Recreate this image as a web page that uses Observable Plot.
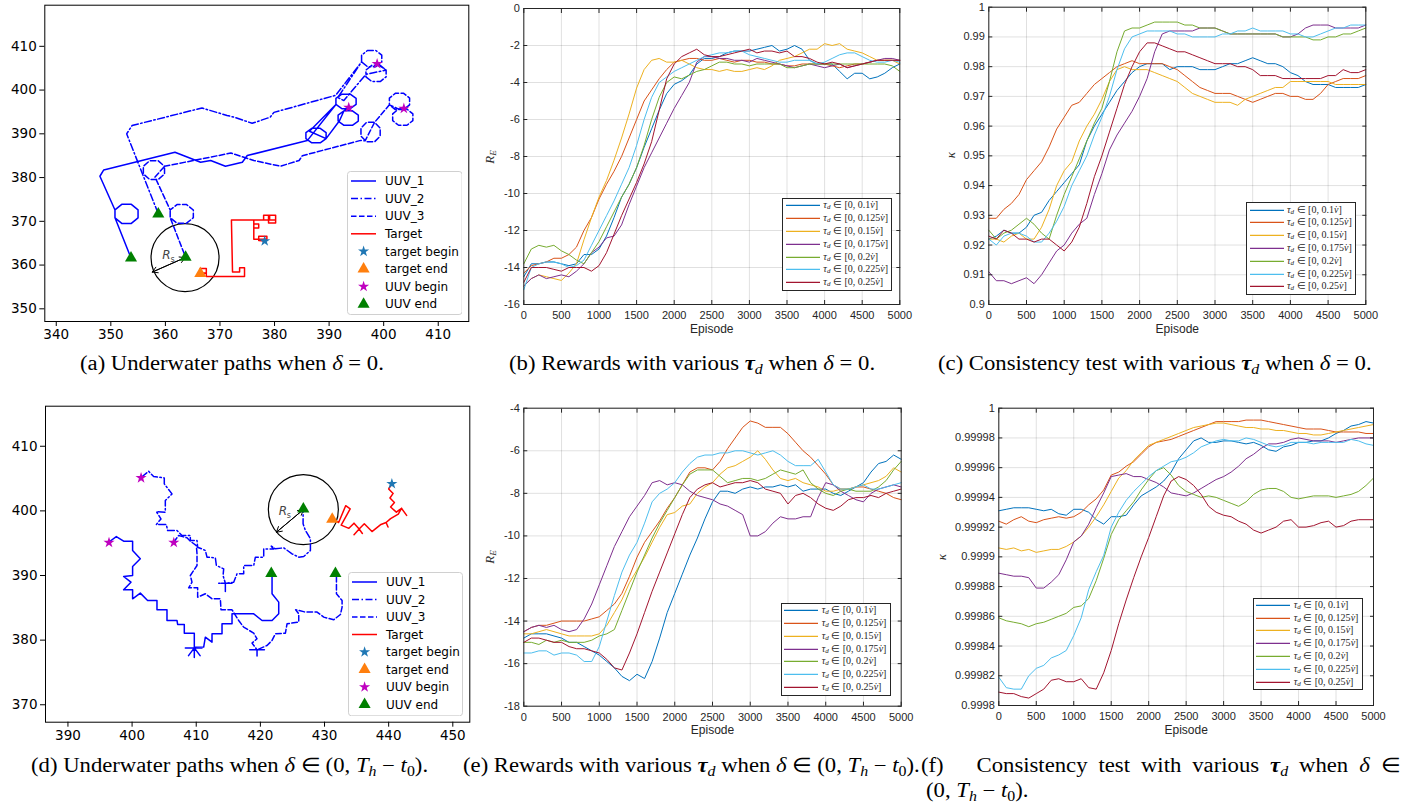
<!DOCTYPE html>
<html><head><meta charset="utf-8">
<script src="https://cdn.jsdelivr.net/npm/d3@7"></script>
<script src="https://cdn.jsdelivr.net/npm/@observablehq/plot@0.6"></script>
<style>
body{margin:0;background:#fff;}
#fig{position:relative;width:1406px;height:804px;overflow:hidden;background:#fff;}
.cap{position:absolute;font-family:"Liberation Serif","Times New Roman",serif;font-size:20px;line-height:22px;white-space:nowrap;color:#000;transform:scaleX(1.135);transform-origin:0 50%;}
.cap sub{font-size:0.7em;vertical-align:-0.25em;line-height:0;}
.ylab{position:absolute;font-family:"Liberation Serif",serif;font-style:italic;font-size:13px;white-space:nowrap;color:#262626;line-height:14px;}
.ylab sub{font-size:0.7em;vertical-align:-0.2em;line-height:0;}
.mleg{position:absolute;box-sizing:border-box;background:#fff;border:1px solid #262626;font-family:"Liberation Serif",serif;font-size:10px;color:#262626;}
.mleg .row{position:absolute;left:0;right:0;}
.mleg sub{font-size:0.7em;vertical-align:-0.2em;line-height:0;}
</style></head>
<body><div id="fig"></div>
<script>
// ---------- shared categories / ticks ----------
const episodes = d3.range(0, 5001, 100);
const episodeTicks = [0,500,1000,1500,2000,2500,3000,3500,4000,4500,5000];
const tauKeys = ["0.1","0.125","0.15","0.175","0.2","0.225","0.25"];
const matlabColors = ["#0072BD","#D95319","#EDB120","#7E2F8E","#77AC30","#4DBEEE","#A2142F"];
const bTicks = [-16,-14,-12,-10,-8,-6,-4,-2,0];
const cTicks = [0.9,0.91,0.92,0.93,0.94,0.95,0.96,0.97,0.98,0.99,1];
const eTicks = [-18,-16,-14,-12,-10,-8,-6,-4];
const fTicks = [0.9998,0.99982,0.99984,0.99986,0.99988,0.9999,0.99992,0.99994,0.99996,0.99998,1];
const aXTicks = [340,350,360,370,380,390,400,410];
const aYTicks = [350,360,370,380,390,400,410];
const dXTicks = [390,400,410,420,430,440,450];
const dYTicks = [370,380,390,400,410];

// ---------- (b) rewards, delta = 0 ----------
const rewardsB = [
[-14.5,-13.8,-13.8,-13.7,-13.7,-13.8,-13.9,-13.8,-13.3,-13.3,-13.0,-12.3,-11.3,-10.2,-9.5,-8.6,-7.5,-6.5,-5.5,-4.6,-4.1,-3.9,-3.6,-3.0,-2.7,-2.7,-2.6,-2.4,-2.3,-2.3,-2.3,-2.2,-2.1,-2.0,-2.3,-2.2,-2.0,-2.2,-2.8,-3.0,-3.0,-3.0,-3.4,-3.8,-3.5,-3.5,-3.8,-3.7,-3.5,-3.2,-3.0],
[-14.3,-13.9,-13.8,-13.7,-13.5,-13.5,-13.3,-12.9,-12.0,-11.3,-10.3,-9.5,-8.8,-8.0,-7.0,-6.0,-5.0,-4.4,-3.8,-3.3,-2.9,-2.8,-2.7,-2.7,-2.8,-2.8,-2.7,-2.8,-2.9,-2.8,-2.8,-2.9,-2.9,-3.0,-3.0,-3.1,-3.1,-3.0,-3.0,-3.0,-3.0,-3.1,-3.2,-3.1,-3.0,-3.0,-2.9,-2.8,-2.8,-2.8,-2.8],
[-15.0,-14.6,-14.4,-14.5,-14.6,-14.7,-14.3,-13.8,-12.5,-11.3,-10.2,-9.3,-8.2,-7.0,-5.7,-4.3,-3.3,-2.8,-2.7,-2.9,-2.9,-2.8,-3.0,-3.2,-3.3,-3.3,-3.4,-3.3,-3.4,-3.4,-3.3,-3.2,-3.3,-3.1,-2.8,-2.7,-2.6,-2.4,-2.2,-2.2,-1.9,-2.0,-1.9,-2.2,-2.3,-2.4,-2.6,-2.8,-2.8,-2.8,-3.0],
[-15.0,-14.6,-14.4,-14.6,-14.5,-14.4,-14.5,-14.2,-13.8,-13.2,-12.9,-12.4,-12.3,-11.7,-10.6,-9.6,-8.6,-7.8,-7.0,-6.2,-5.4,-4.7,-4.0,-2.9,-2.6,-2.6,-2.7,-2.7,-2.8,-2.8,-2.9,-2.7,-2.8,-2.9,-3.0,-3.1,-3.2,-3.1,-3.0,-3.1,-3.2,-3.1,-3.0,-3.2,-3.1,-3.0,-2.9,-2.8,-2.7,-2.7,-2.8],
[-13.8,-13.0,-12.8,-12.9,-12.8,-13.1,-13.3,-13.6,-13.8,-13.2,-12.6,-11.8,-11.0,-10.2,-9.5,-8.6,-7.4,-6.0,-4.8,-4.0,-3.7,-3.8,-3.6,-3.4,-3.3,-3.1,-2.9,-2.9,-3.0,-3.0,-3.1,-3.0,-3.0,-3.0,-3.0,-3.2,-3.2,-3.1,-3.0,-3.0,-3.0,-3.0,-3.0,-3.0,-3.0,-3.0,-3.0,-3.0,-3.0,-3.1,-3.4],
[-15.2,-14.0,-13.8,-13.7,-13.7,-13.8,-14.0,-13.9,-13.6,-12.8,-12.0,-11.2,-10.4,-9.5,-8.6,-7.4,-6.0,-4.8,-4.0,-3.7,-3.4,-3.2,-3.0,-2.8,-2.6,-2.5,-2.4,-2.4,-2.3,-2.3,-2.5,-2.6,-2.7,-2.8,-2.9,-2.9,-2.8,-2.8,-2.8,-3.0,-2.9,-2.7,-2.5,-2.4,-2.4,-2.6,-2.8,-2.9,-2.9,-2.8,-2.9],
[-14.8,-14.0,-14.0,-14.0,-14.1,-14.2,-14.0,-14.0,-14.0,-14.2,-13.9,-13.2,-12.2,-11.2,-10.3,-9.4,-8.4,-7.2,-5.5,-3.8,-3.0,-2.6,-2.4,-2.2,-2.5,-2.6,-2.6,-2.5,-2.4,-2.3,-2.2,-2.4,-2.3,-2.3,-2.4,-2.3,-2.6,-2.6,-2.7,-2.9,-3.0,-2.9,-3.0,-3.2,-3.1,-3.0,-2.9,-2.8,-2.8,-2.8,-2.8]
];

// ---------- (c) consistency, delta = 0 ----------
const consistC = [
[0.922,0.923,0.925,0.924,0.924,0.926,0.930,0.931,0.935,0.938,0.941,0.944,0.947,0.955,0.960,0.964,0.968,0.972,0.975,0.978,0.980,0.981,0.981,0.981,0.979,0.980,0.980,0.980,0.979,0.979,0.979,0.980,0.981,0.981,0.982,0.983,0.982,0.981,0.981,0.980,0.978,0.977,0.975,0.974,0.974,0.974,0.973,0.973,0.973,0.973,0.974],
[0.929,0.929,0.932,0.934,0.937,0.942,0.945,0.948,0.953,0.959,0.963,0.967,0.968,0.971,0.974,0.976,0.978,0.980,0.981,0.982,0.981,0.981,0.981,0.981,0.980,0.979,0.977,0.975,0.973,0.972,0.971,0.971,0.971,0.970,0.969,0.968,0.969,0.970,0.971,0.971,0.970,0.970,0.969,0.969,0.971,0.974,0.975,0.976,0.976,0.976,0.977],
[0.922,0.922,0.921,0.923,0.924,0.922,0.922,0.926,0.932,0.940,0.945,0.948,0.955,0.960,0.964,0.969,0.975,0.979,0.980,0.979,0.979,0.979,0.978,0.977,0.976,0.975,0.973,0.971,0.970,0.969,0.968,0.968,0.968,0.967,0.969,0.970,0.971,0.972,0.973,0.973,0.975,0.975,0.975,0.975,0.975,0.975,0.974,0.974,0.974,0.974,0.974],
[0.911,0.908,0.908,0.907,0.908,0.909,0.907,0.910,0.914,0.918,0.920,0.924,0.927,0.929,0.937,0.944,0.952,0.957,0.961,0.965,0.970,0.976,0.985,0.991,0.992,0.992,0.992,0.992,0.993,0.993,0.993,0.992,0.991,0.991,0.991,0.991,0.991,0.991,0.991,0.990,0.990,0.991,0.993,0.994,0.994,0.994,0.993,0.993,0.993,0.993,0.994],
[0.925,0.922,0.924,0.925,0.927,0.929,0.927,0.924,0.922,0.930,0.937,0.943,0.949,0.955,0.961,0.966,0.975,0.985,0.992,0.993,0.993,0.994,0.995,0.995,0.995,0.995,0.994,0.994,0.993,0.993,0.993,0.992,0.991,0.991,0.991,0.991,0.991,0.991,0.991,0.990,0.990,0.990,0.990,0.989,0.989,0.990,0.990,0.991,0.991,0.992,0.993],
[0.922,0.920,0.923,0.924,0.924,0.923,0.921,0.921,0.924,0.928,0.933,0.940,0.945,0.950,0.957,0.963,0.970,0.979,0.986,0.990,0.991,0.992,0.992,0.992,0.992,0.991,0.991,0.990,0.990,0.990,0.990,0.991,0.991,0.992,0.992,0.993,0.992,0.992,0.992,0.992,0.991,0.991,0.990,0.990,0.991,0.992,0.993,0.993,0.994,0.994,0.994],
[0.923,0.922,0.925,0.924,0.922,0.922,0.921,0.922,0.922,0.920,0.918,0.921,0.926,0.934,0.943,0.950,0.958,0.966,0.974,0.980,0.985,0.988,0.988,0.987,0.986,0.985,0.985,0.984,0.983,0.982,0.981,0.981,0.981,0.980,0.980,0.979,0.977,0.977,0.977,0.976,0.976,0.976,0.976,0.976,0.976,0.977,0.977,0.979,0.978,0.978,0.979]
];

// ---------- (e) rewards, delta in (0, Th - t0) ----------
const rewardsE = [
[-14.8,-14.6,-14.6,-14.6,-14.7,-14.8,-15.0,-15.0,-15.2,-15.4,-15.6,-15.9,-16.2,-16.6,-16.8,-16.5,-16.7,-15.9,-14.8,-13.6,-12.7,-11.8,-10.9,-10.1,-9.2,-8.4,-7.9,-7.9,-8.0,-7.8,-7.7,-7.8,-7.7,-7.7,-7.6,-7.7,-7.6,-7.9,-7.8,-7.8,-7.8,-8.0,-8.1,-7.9,-7.7,-7.5,-7.0,-6.6,-6.5,-6.2,-6.4],
[-14.5,-14.3,-14.2,-14.2,-14.1,-14.0,-14.0,-14.0,-14.0,-13.9,-13.8,-13.5,-13.2,-12.7,-11.9,-11.0,-10.3,-9.8,-9.3,-8.7,-8.2,-7.6,-7.0,-6.8,-6.8,-6.9,-6.5,-5.9,-5.4,-4.9,-4.6,-4.7,-4.9,-4.9,-4.9,-5.2,-5.6,-6.0,-6.3,-6.7,-7.1,-7.6,-7.8,-7.8,-7.7,-7.7,-7.8,-7.9,-8.0,-8.2,-8.3],
[-14.6,-14.6,-14.5,-14.4,-14.5,-14.6,-14.7,-14.7,-14.7,-14.7,-14.6,-14.2,-13.6,-13.0,-12.2,-11.6,-11.0,-10.3,-9.6,-9.0,-8.9,-8.6,-8.5,-8.0,-7.7,-7.5,-7.1,-6.8,-6.7,-6.5,-6.3,-6.0,-6.4,-6.9,-7.3,-7.4,-7.3,-7.5,-7.6,-7.7,-7.9,-7.9,-7.8,-7.8,-7.7,-7.6,-7.5,-7.4,-7.2,-6.8,-7.0],
[-14.5,-14.3,-14.2,-14.3,-14.2,-14.4,-14.5,-14.4,-13.9,-13.2,-12.3,-11.4,-10.5,-9.8,-9.1,-8.6,-8.1,-7.5,-7.4,-7.6,-7.5,-7.6,-7.9,-8.1,-8.2,-8.3,-8.5,-8.6,-8.8,-9.0,-10.0,-10.0,-9.8,-9.4,-9.1,-9.2,-9.2,-9.1,-9.1,-8.2,-7.5,-7.6,-7.9,-8.1,-8.3,-8.4,-8.0,-7.8,-7.7,-7.6,-7.7],
[-15.0,-15.0,-15.1,-14.9,-15.0,-14.9,-15.0,-15.0,-15.0,-14.9,-14.7,-14.6,-14.4,-13.5,-12.6,-11.7,-10.9,-10.1,-9.4,-8.8,-8.2,-7.6,-7.1,-6.9,-6.9,-6.9,-7.2,-7.5,-7.4,-7.3,-7.3,-7.4,-7.3,-7.1,-6.9,-7.0,-7.1,-6.9,-7.5,-7.8,-8.0,-8.1,-7.9,-7.8,-7.9,-7.9,-7.9,-7.7,-7.4,-6.9,-6.5],
[-15.5,-15.5,-15.4,-15.4,-15.6,-15.5,-15.5,-15.6,-15.9,-15.9,-15.2,-14.0,-12.8,-11.7,-10.9,-10.3,-9.4,-8.4,-8.0,-7.8,-7.5,-7.0,-6.6,-6.3,-6.2,-6.2,-6.1,-6.1,-6.0,-6.0,-6.1,-6.2,-6.1,-6.0,-6.2,-6.5,-6.7,-6.7,-6.7,-6.4,-7.0,-7.6,-7.8,-7.8,-7.7,-7.6,-7.8,-7.8,-7.7,-7.6,-7.5],
[-15.0,-14.8,-14.8,-14.9,-15.0,-15.0,-15.2,-15.3,-15.3,-15.4,-15.5,-15.8,-16.2,-16.3,-15.5,-14.6,-13.6,-12.6,-11.7,-10.8,-9.9,-9.0,-8.2,-7.8,-7.6,-7.5,-7.7,-7.6,-7.5,-7.5,-7.4,-7.5,-7.8,-7.9,-8.0,-8.5,-8.1,-8.0,-8.2,-8.5,-8.7,-8.8,-8.6,-8.3,-8.2,-8.2,-8.1,-8.2,-8.0,-7.9,-7.8]
];

// ---------- (f) consistency, delta in (0, Th - t0) ----------
const consistF = [
[0.999931,0.999932,0.999933,0.999933,0.999933,0.999932,0.999931,0.999932,0.999929,0.999928,0.999932,0.999932,0.999930,0.999925,0.999922,0.999927,0.999927,0.999928,0.999935,0.999941,0.999944,0.999947,0.999951,0.999957,0.999966,0.999972,0.999978,0.999980,0.999977,0.999977,0.999978,0.999978,0.999977,0.999976,0.999977,0.999975,0.999972,0.999971,0.999974,0.999975,0.999977,0.999977,0.999978,0.999978,0.999980,0.999983,0.999985,0.999988,0.999989,0.999991,0.999990],
[0.999924,0.999922,0.999925,0.999927,0.999924,0.999923,0.999925,0.999926,0.999927,0.999926,0.999927,0.999930,0.999935,0.999939,0.999945,0.999955,0.999957,0.999961,0.999964,0.999969,0.999974,0.999977,0.999978,0.999979,0.999981,0.999983,0.999985,0.999987,0.999989,0.999991,0.999991,0.999991,0.999991,0.999992,0.999992,0.999992,0.999991,0.999990,0.999989,0.999988,0.999987,0.999986,0.999986,0.999986,0.999985,0.999984,0.999984,0.999984,0.999984,0.999983,0.999983],
[0.999906,0.999905,0.999906,0.999904,0.999905,0.999903,0.999904,0.999905,0.999905,0.999907,0.999910,0.999914,0.999920,0.999927,0.999935,0.999944,0.999953,0.999958,0.999965,0.999970,0.999975,0.999977,0.999979,0.999981,0.999983,0.999985,0.999987,0.999988,0.999989,0.999990,0.999990,0.999989,0.999988,0.999987,0.999987,0.999986,0.999986,0.999985,0.999985,0.999984,0.999983,0.999983,0.999982,0.999982,0.999983,0.999984,0.999985,0.999986,0.999987,0.999988,0.999989],
[0.999889,0.999888,0.999887,0.999887,0.999886,0.999879,0.999879,0.999883,0.999888,0.999898,0.999910,0.999914,0.999922,0.999933,0.999943,0.999954,0.999955,0.999956,0.999954,0.999954,0.999952,0.999950,0.999947,0.999943,0.999942,0.999941,0.999943,0.999946,0.999949,0.999952,0.999954,0.999957,0.999961,0.999966,0.999969,0.999973,0.999976,0.999976,0.999977,0.999979,0.999980,0.999979,0.999978,0.999978,0.999978,0.999977,0.999978,0.999979,0.999980,0.999980,0.999980],
[0.999859,0.999857,0.999856,0.999855,0.999853,0.999855,0.999856,0.999858,0.999860,0.999862,0.999866,0.999867,0.999872,0.999884,0.999899,0.999915,0.999925,0.999931,0.999937,0.999945,0.999952,0.999958,0.999960,0.999955,0.999948,0.999944,0.999942,0.999940,0.999941,0.999940,0.999938,0.999936,0.999934,0.999937,0.999942,0.999945,0.999946,0.999946,0.999944,0.999940,0.999939,0.999940,0.999941,0.999941,0.999941,0.999940,0.999941,0.999942,0.999944,0.999948,0.999953],
[0.999819,0.999812,0.999811,0.999811,0.999820,0.999825,0.999827,0.999832,0.999834,0.999837,0.999847,0.999859,0.999878,0.999890,0.999901,0.999920,0.999930,0.999938,0.999944,0.999949,0.999954,0.999958,0.999961,0.999964,0.999965,0.999967,0.999970,0.999974,0.999976,0.999978,0.999979,0.999978,0.999978,0.999980,0.999979,0.999977,0.999975,0.999974,0.999975,0.999977,0.999977,0.999977,0.999976,0.999977,0.999977,0.999977,0.999977,0.999979,0.999978,0.999976,0.999975],
[0.999809,0.999808,0.999808,0.999806,0.999805,0.999808,0.999811,0.999817,0.999818,0.999816,0.999816,0.999818,0.999812,0.999811,0.999822,0.999837,0.999855,0.999871,0.999886,0.999900,0.999913,0.999927,0.999941,0.999951,0.999954,0.999952,0.999948,0.999942,0.999934,0.999930,0.999928,0.999927,0.999924,0.999922,0.999918,0.999916,0.999918,0.999920,0.999924,0.999925,0.999920,0.999920,0.999921,0.999923,0.999924,0.999920,0.999921,0.999924,0.999925,0.999925,0.999925]
];

// ---------- (a) underwater paths, delta = 0 ----------
const pathA_uuv1 = [[393.6,396.0],[392.73,395.26],[391.65,394.29],[391.65,392.91],[392.73,391.94],[394.27,391.94],[395.35,392.91],[395.35,394.29],[394.27,395.26],[392.73,395.26],[391.9,393.0],[389.45,388.91],[388.37,387.94],[386.83,387.94],[385.75,388.91],[385.75,390.29],[386.83,391.26],[388.37,391.26],[389.45,390.29],[389.45,388.91],[386.4,390.6],[391.25,396.71],[392.33,395.74],[393.87,395.74],[394.95,396.71],[394.95,398.09],[393.87,399.06],[392.33,399.06],[391.25,398.09],[391.25,396.71],[386.0,388.45],[375.0,385.03],[374.1,383.5],[371.0,382.6],[368.3,383.9],[366.45,383.5],[361.75,385.8],[348.7,381.75],[348.0,380.3],[350.76,372.6],[352.0,373.88],[353.76,373.88],[354.99,372.6],[354.99,370.8],[353.76,369.52],[352.0,369.52],[350.76,370.8],[350.76,372.6],[350.76,370.8],[353.7,361.6]];
const pathA_uuv2 = [[398.8,406.0],[400.45,404.57],[399.37,405.65],[397.83,405.65],[396.75,404.57],[396.75,403.03],[397.83,401.95],[399.37,401.95],[400.45,403.03],[400.45,404.57],[396.75,403.6],[392.7,397.6],[391.6,398.3],[395.95,406.43],[395.95,407.97],[397.03,409.05],[398.57,409.05],[399.65,407.97],[399.65,406.43],[398.57,405.35],[397.03,405.35],[395.95,406.43],[391.2,398.8],[390.9,398.7],[379.9,394.9],[379.2,393.8],[375.9,392.4],[372.6,393.8],[371.3,394.2],[366.7,395.9],[353.9,391.9],[352.9,390.0],[358.7,371.7]];
const pathA_uuv3 = [[403.7,395.8],[402.73,395.65],[401.65,394.57],[401.65,393.03],[402.73,391.95],[404.27,391.95],[405.35,393.03],[405.35,394.57],[404.27,395.65],[402.73,395.65],[401.05,396.63],[401.05,398.17],[402.13,399.25],[403.67,399.25],[404.75,398.17],[404.75,396.63],[403.67,395.55],[402.13,395.55],[401.05,396.63],[398.33,392.62],[396.87,392.62],[395.84,391.32],[395.84,389.48],[396.87,388.18],[398.33,388.18],[399.36,389.48],[399.36,391.32],[398.33,392.62],[396.6,388.4],[395.8,388.5],[385.1,385.0],[384.5,383.9],[381.1,382.6],[376.2,383.9],[372.0,385.6],[359.84,382.58],[358.7,383.82],[357.1,383.82],[355.96,382.58],[355.96,380.82],[357.1,379.58],[358.7,379.58],[359.84,380.82],[359.84,382.58],[358.1,380.1],[360.88,372.58],[362.12,373.82],[363.88,373.82],[365.12,372.58],[365.12,370.82],[363.88,369.58],[362.12,369.58],[360.88,370.82],[360.88,372.58],[360.88,370.82],[363.7,361.8]];
const pathA_target = [[378.2,365.5],[377.1,365.6],[377.1,366.6],[378.6,366.6],[378.6,365.9],[376.2,365.9],[376.2,369.4],[377.1,369.4],[377.1,368.5],[376.2,368.5],[376.2,370.3],[378.0,370.3],[378.0,371.4],[379.1,371.4],[379.1,370.3],[380.2,370.3],[380.2,371.4],[378.9,371.4],[378.9,369.6],[380.2,369.6],[380.2,370.3],[372.1,370.3],[372.3,358.4],[373.6,358.4],[373.6,359.4],[374.5,359.4],[374.5,357.4],[367.5,357.4],[367.5,359.2],[366.4,359.2],[366.4,358.2],[367.5,358.2],[366.4,358.1]];
const targetBeginA = [[378.2,365.5]];
const targetEndA = [[366.4,358.1]];
const uuvBeginA = [[398.8,406.0],[393.6,396.0],[403.7,395.8]];
const uuvEndA = [[353.7,361.6],[358.7,371.7],[363.7,361.8]];
const circleA = [363.6,361.7], arrowEdgeA = [357.6,358.4], rLabelA = [360.2,361.6];

// ---------- (d) underwater paths, delta in (0, Th - t0) ----------
const pathD_uuv1 = [[396.34,395.15],[397.54,396.03],[398.68,395.31],[400.08,395.31],[400.08,393.87],[401.28,392.58],[400.08,391.39],[400.08,390.0],[398.68,389.85],[399.82,388.97],[398.68,387.78],[400.08,387.78],[400.08,386.39],[401.28,387.27],[402.42,386.14],[403.88,386.14],[403.88,384.69],[405.44,384.69],[405.44,383.04],[407.0,383.04],[407.1,382.42],[408.14,382.42],[408.14,381.08],[409.7,381.08],[409.7,378.8],[408.3,378.8],[410.9,378.8],[409.7,378.8],[408.8,377.6],[409.7,378.8],[410.6,377.6],[409.7,378.8],[409.7,377.3],[409.7,378.9],[411.16,378.92],[411.42,380.46],[412.46,379.69],[412.46,380.98],[414.02,380.98],[414.02,382.53],[415.58,382.53],[415.58,384.07],[418.96,384.07],[420.26,383.04],[421.82,383.04],[422.86,384.07],[422.86,385.88],[421.82,387.17],[421.82,390.3]];
const pathD_uuv2 = [[401.44,405.21],[402.58,406.13],[403.36,405.31],[405.02,405.1],[405.02,404.18],[406.22,402.63],[405.18,401.6],[405.18,399.79],[403.78,399.9],[404.5,398.76],[403.78,397.89],[405.34,397.89],[405.54,396.96],[407.0,396.96],[407.78,396.19],[409.08,396.19],[409.08,395.41],[410.12,395.41],[410.22,394.38],[411.42,393.87],[411.68,392.84],[412.98,392.73],[413.14,391.55],[414.28,391.03],[414.18,390.0],[414.54,388.81],[413.5,388.81],[415.58,388.81],[414.54,388.81],[414.54,387.42],[414.54,388.81],[415.84,388.97],[416.36,390.26],[417.4,390.26],[417.4,391.55],[418.96,391.55],[419.22,392.84],[420.52,392.84],[420.52,394.12],[422.08,394.12],[421.56,394.65],[422.34,394.13],[423.64,394.28],[424.94,393.36],[425.98,392.84],[426.76,392.95],[427.8,393.87],[427.8,395.68],[427.02,396.97],[426.66,398.0],[426.66,400.06]];
const pathD_uuv3 = [[406.48,395.15],[407.26,396.19],[408.56,395.83],[409.08,395.31],[410.02,394.64],[410.12,393.35],[410.12,391.55],[409.08,390.0],[409.34,388.97],[408.82,388.09],[410.22,388.09],[410.22,386.65],[411.42,387.17],[412.46,386.39],[413.76,386.39],[413.86,384.69],[415.58,384.69],[416.62,383.04],[417.4,382.01],[418.96,381.08],[419.48,380.21],[418.7,379.54],[419.48,378.5],[418.34,378.5],[420.63,378.5],[419.48,378.5],[419.48,377.37],[419.48,378.5],[421.04,379.17],[421.82,379.95],[422.34,380.98],[423.9,381.08],[424.16,382.53],[425.98,382.79],[425.98,384.08],[425.5,384.7],[427.02,384.34],[428.84,384.34],[429.88,383.56],[431.44,383.15],[432.48,383.97],[432.74,385.11],[432.74,386.14],[431.86,387.17],[431.86,390.26]];
const pathD_target = [[440.5,404.2],[440.0,403.4],[440.7,402.7],[440.2,402.0],[440.9,401.3],[440.3,400.6],[441.2,399.8],[442.0,400.4],[442.8,399.3],[442.0,400.4],[441.5,399.5],[440.3,398.8],[439.6,398.2],[439.9,397.5],[439.6,398.2],[438.8,397.9],[437.4,396.8],[436.2,398.0],[435.4,397.2],[435.9,396.5],[435.4,397.2],[434.6,396.3],[435.4,397.2],[434.6,398.1],[433.8,397.3],[432.6,397.8],[434.0,400.3],[433.3,400.8],[432.2,398.2],[431.2,398.7]];
const targetBeginD = [[440.5,404.2]];
const targetEndD = [[431.2,398.7]];
const uuvBeginD = [[401.4,405.1],[396.4,395.1],[406.5,395.1]];
const uuvEndD = [[426.7,400.3],[421.7,390.3],[431.7,390.3]];
const circleD = [426.7,400.2], arrowEdgeD = [422.5,396.7], rLabelD = [423.5,399.5];

const pathLegend = [
  {label:"UUV_1", kind:"line", color:"#0000ff", dash:null},
  {label:"UUV_2", kind:"line", color:"#0000ff", dash:"7,2.5,1.5,2.5"},
  {label:"UUV_3", kind:"line", color:"#0000ff", dash:"5.5,2.5"},
  {label:"Target", kind:"line", color:"#ff0000", dash:null},
  {label:"target begin", kind:"star", color:"#1f77b4"},
  {label:"target end", kind:"triangle", color:"#ff7f0e"},
  {label:"UUV begin", kind:"star", color:"#bf00bf"},
  {label:"UUV end", kind:"triangle", color:"#008000"}
];

// ---------- helpers ----------
const fig = document.getElementById("fig");
function put(node, left, top) {
  node.style.position = "absolute"; node.style.left = left + "px"; node.style.top = top + "px";
  fig.appendChild(node); return node;
}
const P = d => d[0], Q = d => d[1];

function matlabPanel(series, yDomain, yTicks, yFormat, w, h, mL, mR, mT, mB) {
  const rows = series.flatMap((vals, i) => vals.map((v, j) => ({ep: episodes[j], v, s: tauKeys[i]})));
  const noText = () => "";
  return Plot.plot({
    width: w, height: h, marginLeft: mL, marginRight: mR, marginTop: mT, marginBottom: mB,
    x: {domain: [0, 5000]}, y: {domain: yDomain},
    color: {domain: tauKeys, range: matlabColors},
    style: {fontFamily: "'Liberation Sans', Arial, sans-serif", fontSize: "11px", color: "#262626", background: "transparent", overflow: "visible"},
    marks: [
      Plot.gridX(episodeTicks, {stroke: "#000", strokeOpacity: 0.12}),
      Plot.gridY(yTicks, {stroke: "#000", strokeOpacity: 0.12}),
      Plot.line(rows, {x: "ep", y: "v", z: "s", stroke: "s", strokeWidth: 1}),
      Plot.frame({stroke: "#262626", strokeWidth: 1}),
      Plot.axisX(episodeTicks, {anchor: "bottom", tickSize: -4, tickPadding: 11, tickFormat: d => String(d), label: null}),
      Plot.axisX(episodeTicks, {anchor: "top", tickSize: -4, tickFormat: noText, label: null}),
      Plot.axisY(yTicks, {anchor: "left", tickSize: -4, tickPadding: 8, tickFormat: yFormat, label: null}),
      Plot.axisY(yTicks, {anchor: "right", tickSize: -4, tickFormat: noText, label: null}),
      Plot.text(["Episode"], {frameAnchor: "bottom", dy: 28, text: d => d, fontSize: 12, fill: "#262626"})
    ]
  });
}

function mplPanel(o) {
  const seg = (a, b) => [{a, b}];
  return Plot.plot({
    width: o.w, height: o.h, marginLeft: o.mL, marginRight: o.mR, marginTop: o.mT, marginBottom: o.mB,
    x: {domain: o.xDomain}, y: {domain: o.yDomain},
    style: {fontFamily: "'DejaVu Sans', sans-serif", fontSize: "13.5px", color: "#000", background: "transparent", overflow: "visible"},
    marks: [
      Plot.dot([o.circle], {x: P, y: Q, r: o.r, stroke: "#000", strokeWidth: 1.2, fill: "none"}),
      Plot.arrow(seg(o.circle, o.edge), {x1: d => d.a[0], y1: d => d.a[1], x2: d => d.b[0], y2: d => d.b[1], stroke: "#000", strokeWidth: 1, headLength: 9}),
      Plot.arrow(seg(o.edge, o.circle), {x1: d => d.a[0], y1: d => d.a[1], x2: d => d.b[0], y2: d => d.b[1], stroke: "#000", strokeWidth: 1, headLength: 9}),
      Plot.text([o.label], {x: P, y: Q, text: () => "R", fontStyle: "italic", fontSize: 12, fill: "#444", dy: -3}),
      Plot.text([o.label], {x: P, y: Q, text: () => "s", fontSize: 8, fill: "#444", dx: 6, dy: 1}),
      Plot.line(o.uuv1, {x: P, y: Q, stroke: "#0000ff", strokeWidth: 1.5, strokeLinejoin: "round"}),
      Plot.line(o.uuv2, {x: P, y: Q, stroke: "#0000ff", strokeWidth: 1.5, strokeDasharray: "7,2.5,1.5,2.5"}),
      Plot.line(o.uuv3, {x: P, y: Q, stroke: "#0000ff", strokeWidth: 1.5, strokeDasharray: "5.5,2.5"}),
      Plot.line(o.target, {x: P, y: Q, stroke: "#ff0000", strokeWidth: 1.5, strokeLinejoin: "round"}),
      Plot.dot(o.tBegin, {x: P, y: Q, symbol: "star", r: 3.5, fill: "#1f77b4"}),
      Plot.dot(o.tEnd, {x: P, y: Q, symbol: "triangle", r: 4.5, fill: "#ff7f0e"}),
      Plot.dot(o.uBegin, {x: P, y: Q, symbol: "star", r: 3.5, fill: "#bf00bf"}),
      Plot.dot(o.uEnd, {x: P, y: Q, symbol: "triangle", r: 4.5, fill: "#008000"}),
      Plot.frame({stroke: "#000", strokeWidth: 1}),
      Plot.axisX(o.xTicks, {tickSize: 5, tickPadding: 3, label: null}),
      Plot.axisY(o.yTicks, {tickSize: 5, tickPadding: 3, label: null})
    ]
  });
}

function mplLegend(left, top, w, h, firstCenter, step) {
  const svg = d3.create("svg").attr("width", w).attr("height", h)
    .style("font-family", "'DejaVu Sans', sans-serif").style("font-size", "12px");
  svg.append("rect").attr("x", 0.5).attr("y", 0.5).attr("width", w - 1).attr("height", h - 1).attr("rx", 3)
    .attr("fill", "#fff").attr("fill-opacity", 0.8).attr("stroke", "#d0d0d0");
  pathLegend.forEach((e, i) => {
    const y = firstCenter + i * step;
    if (e.kind === "line") {
      svg.append("line").attr("x1", 4).attr("x2", 29).attr("y1", y).attr("y2", y)
        .attr("stroke", e.color).attr("stroke-width", 1.5).attr("stroke-dasharray", e.dash);
    } else {
      const sym = e.kind === "star" ? d3.symbolStar : d3.symbolTriangle;
      const rr = e.kind === "star" ? 3.5 : 4.5;
      svg.append("path").attr("transform", `translate(16.6,${y})`).attr("d", d3.symbol(sym, Math.PI * rr * rr)()).attr("fill", e.color);
    }
    svg.append("text").attr("x", 38).attr("y", y).attr("dy", "0.35em").attr("fill", "#000").text(e.label);
  });
  return put(svg.node(), left, top);
}

function matlabLegend(left, top, w, h, firstCenter, step) {
  const box = document.createElement("div");
  box.className = "mleg"; box.style.width = w + "px"; box.style.height = h + "px";
  tauKeys.forEach((k, i) => {
    const row = document.createElement("div");
    row.className = "row";
    row.style.top = (firstCenter - step / 2 + i * step - 1) + "px";
    row.style.height = step + "px";
    row.innerHTML = `<svg width="36" height="${step}" style="position:absolute;left:2.5px;top:0"><line x1="0" x2="34" y1="${step/2}" y2="${step/2}" stroke="${matlabColors[i]}" stroke-width="1.3"/></svg>` +
      `<span style="position:absolute;left:40px;top:0;line-height:${step}px;white-space:nowrap"><i>τ</i><sub><i>d</i></sub> ∈ [0, ${k}<i>v̇</i>]</span>`;
    box.appendChild(row);
  });
  return put(box, left, top);
}

function ylabel(html, cx, cy) {
  const d = document.createElement("div");
  d.className = "ylab"; d.innerHTML = html;
  d.style.transform = "translate(-50%,-50%) rotate(-90deg)";
  return put(d, cx, cy);
}
function caption(html, left, cy, extra) {
  const d = document.createElement("div");
  d.className = "cap"; d.innerHTML = html;
  if (extra) Object.assign(d.style, extra);
  return put(d, left, cy - 11);
}

// ---------- panels ----------
put(mplPanel({w: 470, h: 350, mL: 44.3, mR: 1.7, mT: 4.7, mB: 29,
  xDomain: [337.9, 415.6], yDomain: [347.1, 419.4], xTicks: aXTicks, yTicks: aYTicks,
  uuv1: pathA_uuv1, uuv2: pathA_uuv2, uuv3: pathA_uuv3, target: pathA_target,
  tBegin: targetBeginA, tEnd: targetEndA, uBegin: uuvBeginA, uEnd: uuvEndA,
  circle: circleA, edge: arrowEdgeA, label: rLabelA, r: 34}), 0, 0);
mplLegend(346.7, 171, 115.6, 144, 10, 17.6);

put(matlabPanel(rewardsB, [-16, 0], bTicks, d => String(d), 470, 345, 53.3, 40.7, 8, 41), 470, 0);
matlabLegend(782.3, 198, 110, 92.7, 7.7, 12.8);
ylabel("R<sub>E</sub>", 490, 157);

put(matlabPanel(consistC, [0.9, 1], cTicks, d3.format(".2~f"), 476, 345, 58.3, 40.7, 6.7, 41), 930, 0);
matlabLegend(1246, 202.3, 110, 92.7, 7.7, 12.8);
ylabel("κ", 950.7, 155);

put(mplPanel({w: 470, h: 350, mL: 45, mR: 0.7, mT: 10.7, mB: 23.3,
  xDomain: [386.5, 452.65], yDomain: [367.3, 416.2], xTicks: dXTicks, yTicks: dYTicks,
  uuv1: pathD_uuv1, uuv2: pathD_uuv2, uuv3: pathD_uuv3, target: pathD_target,
  tBegin: targetBeginD, tEnd: targetEndD, uBegin: uuvBeginD, uEnd: uuvEndD,
  circle: circleD, edge: arrowEdgeD, label: rLabelD, r: 35}), 0, 395);
mplLegend(348.3, 571.7, 115, 144.3, 10, 17.5);

put(matlabPanel(rewardsE, [-18, -4], eTicks, d => String(d), 470, 350, 53.3, 39.3, 12.7, 39.3), 470, 395);
matlabLegend(780.7, 602.7, 110, 93.3, 8, 12.8);
ylabel("R<sub>E</sub>", 490, 556.7);

put(matlabPanel(consistF, [0.9998, 1], fTicks, d3.format(".5~f"), 476, 350, 68.3, 33, 12.7, 40), 930, 395);
matlabLegend(1252.7, 597.7, 110.6, 92.6, 7.6, 12.8);
ylabel("κ", 942.3, 556.7);

// ---------- captions ----------
const tauD = `<b><i>τ</i></b><sub><i>d</i></sub>`;
const delta0 = `<i>δ</i> = 0.`;
const deltaIn = `<i>δ</i> ∈ (0, <i>T</i><sub><i>h</i></sub> − <i>t</i><sub>0</sub>).`;
caption(`(a) Underwater paths when ${delta0}`, 80, 363);
caption(`(b) Rewards with various ${tauD} when ${delta0}`, 509, 363);
caption(`(c) Consistency test with various ${tauD} when ${delta0}`, 938, 363);
caption(`(d) Underwater paths when ${deltaIn}`, 31, 765);
caption(`(e) Rewards with various ${tauD} when ${deltaIn}`, 463, 765);
caption(`(f)&nbsp;&nbsp; Consistency test with various ${tauD} when <i>δ</i> ∈`, 921, 765,
  {width: "422px", textAlign: "justify", textAlignLast: "justify", whiteSpace: "normal"});
caption(`(0, <i>T</i><sub><i>h</i></sub> − <i>t</i><sub>0</sub>).`, 926, 790);
</script>
</body></html>
